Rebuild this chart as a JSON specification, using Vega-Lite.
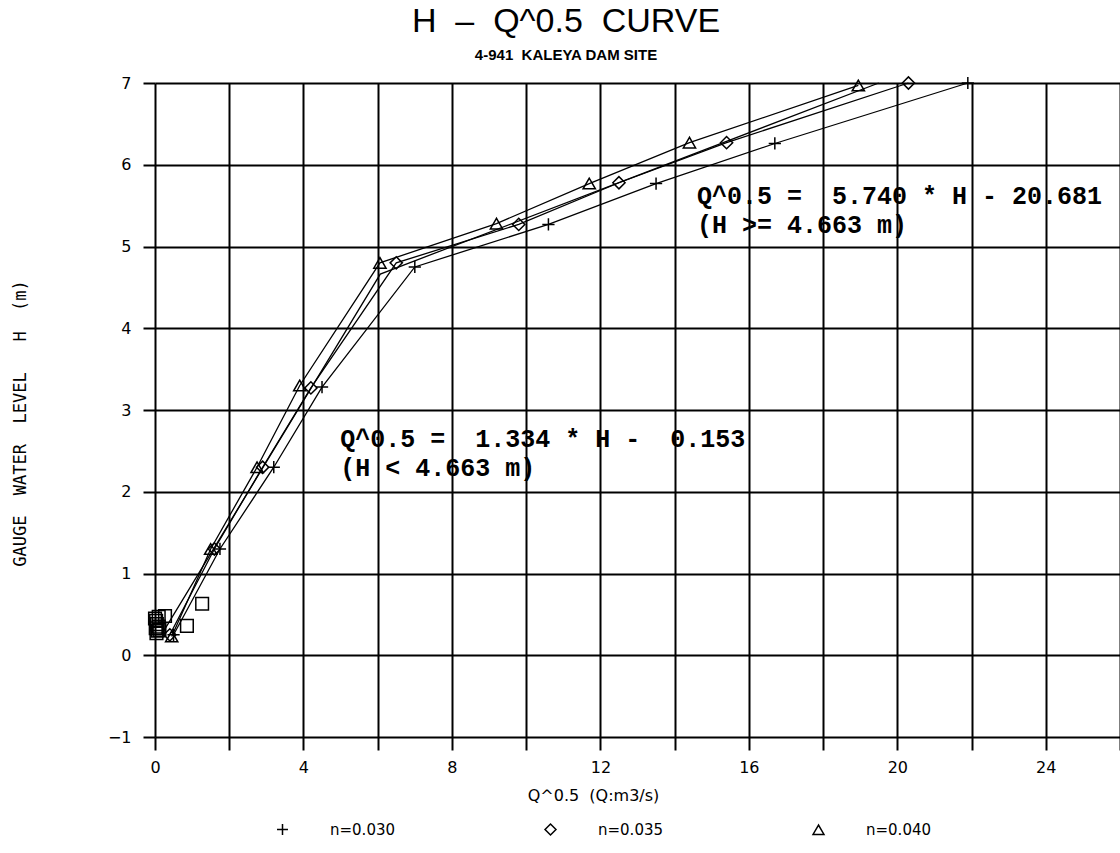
{
  "$schema": "https://vega.github.io/schema/vega-lite/v6.json",
  "width": 965,
  "height": 654,
  "autosize": {"type": "none"},
  "padding": {"left": 155, "top": 83, "right": 0, "bottom": 116},
  "background": "white",
  "title": {
    "text": "H \u00a0–\u00a0 Q^0.5 \u00a0CURVE",
    "subtitle": "4-941 \u00a0KALEYA DAM SITE",
    "anchor": "middle",
    "frame": "bounds",
    "font": "Liberation Sans",
    "fontSize": 34,
    "fontWeight": "normal",
    "color": "black",
    "subtitleFont": "Liberation Sans",
    "subtitleFontSize": 15,
    "subtitleFontWeight": "bold",
    "subtitleColor": "black",
    "subtitlePadding": 9,
    "offset": 11
  },
  "config": {"view": {"stroke": null}},
  "datasets": {
    "series": [
      {"series": "n=0.030", "q": 0.5, "h": 0.25},
      {"series": "n=0.030", "q": 1.75, "h": 1.3},
      {"series": "n=0.030", "q": 3.2, "h": 2.3},
      {"series": "n=0.030", "q": 4.5, "h": 3.28},
      {"series": "n=0.030", "q": 7.0, "h": 4.75},
      {"series": "n=0.030", "q": 10.6, "h": 5.27},
      {"series": "n=0.030", "q": 13.5, "h": 5.77},
      {"series": "n=0.030", "q": 16.7, "h": 6.26},
      {"series": "n=0.030", "q": 21.9, "h": 7.0},
      {"series": "n=0.035", "q": 0.4, "h": 0.25},
      {"series": "n=0.035", "q": 1.6, "h": 1.3},
      {"series": "n=0.035", "q": 2.9, "h": 2.3},
      {"series": "n=0.035", "q": 4.2, "h": 3.27},
      {"series": "n=0.035", "q": 6.5, "h": 4.8},
      {"series": "n=0.035", "q": 9.8, "h": 5.27},
      {"series": "n=0.035", "q": 12.5, "h": 5.78},
      {"series": "n=0.035", "q": 15.4, "h": 6.27},
      {"series": "n=0.035", "q": 20.3, "h": 7.0},
      {"series": "n=0.040", "q": 0.45, "h": 0.23},
      {"series": "n=0.040", "q": 1.5, "h": 1.3},
      {"series": "n=0.040", "q": 2.75, "h": 2.3},
      {"series": "n=0.040", "q": 3.9, "h": 3.3},
      {"series": "n=0.040", "q": 6.06, "h": 4.8},
      {"series": "n=0.040", "q": 9.2, "h": 5.28},
      {"series": "n=0.040", "q": 11.7, "h": 5.77},
      {"series": "n=0.040", "q": 14.4, "h": 6.27},
      {"series": "n=0.040", "q": 18.95, "h": 6.97}
    ],
    "fit": [
      {"q": 0.2, "h": 0.27},
      {"q": 6.07, "h": 4.663},
      {"q": 19.5, "h": 7.0}
    ],
    "obs": [
      {"q": 1.27, "h": 0.63},
      {"q": 0.86, "h": 0.36},
      {"q": 0.27, "h": 0.48},
      {"q": 0.1, "h": 0.47},
      {"q": 0.03, "h": 0.42},
      {"q": 0.05, "h": 0.38},
      {"q": 0.02, "h": 0.33},
      {"q": 0.07, "h": 0.3},
      {"q": 0.04, "h": 0.27},
      {"q": 0.1, "h": 0.35},
      {"q": 0.0, "h": 0.45},
      {"q": 0.12, "h": 0.31}
    ],
    "notes": [
      {"q": 14.6, "h": 5.62, "label": "Q^0.5 =\u00a0 5.740 * H - 20.681"},
      {"q": 14.6, "h": 5.26, "label": "(H >= 4.663 m)"},
      {"q": 4.99, "h": 2.65, "label": "Q^0.5 =\u00a0 1.334 * H -\u00a0 0.153"},
      {"q": 4.99, "h": 2.29, "label": "(H < 4.663 m)"}
    ]
  },
  "layer": [
    {
      "data": {"name": "series"},
      "mark": {"type": "line", "color": "black", "strokeWidth": 1.3},
      "encoding": {
        "x": {
          "field": "q", "type": "quantitative",
          "scale": {"domain": [0, 26], "nice": false, "zero": false},
          "axis": {
            "title": "Q^0.5 \u00a0(Q:m3/s)",
            "values": [0, 2, 4, 6, 8, 10, 12, 14, 16, 18, 20, 22, 24, 26],
            "labelExpr": "datum.value % 4 === 0 ? datum.label : ''",
            "grid": true, "domain": false,
            "gridColor": "black", "gridWidth": 2, "gridOpacity": 1,
            "tickColor": "black", "tickWidth": 2, "tickSize": 13,
            "labelFont": "DejaVu Sans", "labelFontSize": 16, "labelColor": "black",
            "labelPadding": 9, "labelFlush": false, "labelOverlap": false,
            "titleFont": "DejaVu Sans", "titleFontSize": 16, "titleFontWeight": "normal",
            "titleColor": "black", "titleX": 438, "titleY": 58, "titleBaseline": "middle"
          }
        },
        "y": {
          "field": "h", "type": "quantitative",
          "scale": {"domain": [-1, 7], "nice": false, "zero": false},
          "axis": {
            "title": "GAUGE \u00a0WATER \u00a0LEVEL \u00a0\u00a0H \u00a0(m)",
            "values": [-1, 0, 1, 2, 3, 4, 5, 6, 7],
            "format": "d",
            "grid": true, "domain": false,
            "gridColor": "black", "gridWidth": 2, "gridOpacity": 1,
            "tickColor": "black", "tickWidth": 2, "tickSize": 12,
            "labelFont": "DejaVu Sans", "labelFontSize": 16, "labelColor": "black",
            "labelPadding": 12, "labelFlush": false, "labelOverlap": false,
            "titleFont": "DejaVu Sans Mono", "titleFontSize": 17, "titleFontWeight": "normal",
            "titleColor": "black", "titleX": -135, "titleY": 340, "titleBaseline": "middle"
          }
        },
        "detail": {"field": "series"}
      }
    },
    {
      "data": {"name": "fit"},
      "mark": {"type": "line", "color": "black", "strokeWidth": 1.3},
      "encoding": {
        "x": {"field": "q", "type": "quantitative"},
        "y": {"field": "h", "type": "quantitative"}
      }
    },
    {
      "data": {"name": "series"},
      "mark": {"type": "point", "filled": false, "color": "black", "strokeWidth": 1.5, "size": 150, "opacity": 1},
      "encoding": {
        "x": {"field": "q", "type": "quantitative"},
        "y": {"field": "h", "type": "quantitative"},
        "shape": {
          "field": "series", "type": "nominal",
          "scale": {"domain": ["n=0.030", "n=0.035", "n=0.040"], "range": ["M-1,0L1,0M0,-1L0,1", "diamond", "triangle-up"]},
          "legend": {
            "orient": "none", "legendX": 120, "legendY": 739,
            "direction": "horizontal", "title": null,
            "labelFont": "DejaVu Sans", "labelFontSize": 15, "labelColor": "black",
            "labelOffset": 40, "columnPadding": 146,
            "symbolStrokeColor": "black", "symbolFillColor": "white",
            "symbolSize": 120, "symbolStrokeWidth": 1.5
          }
        }
      }
    },
    {
      "data": {"name": "obs"},
      "mark": {"type": "point", "shape": "square", "filled": false, "color": "black", "strokeWidth": 1.5, "size": 160, "opacity": 1},
      "encoding": {
        "x": {"field": "q", "type": "quantitative"},
        "y": {"field": "h", "type": "quantitative"}
      }
    },
    {
      "data": {"name": "notes"},
      "mark": {"type": "text", "align": "left", "baseline": "middle", "font": "Liberation Mono", "fontSize": 25, "fontWeight": "bold", "color": "black"},
      "encoding": {
        "x": {"field": "q", "type": "quantitative"},
        "y": {"field": "h", "type": "quantitative"},
        "text": {"field": "label"}
      }
    }
  ]
}
